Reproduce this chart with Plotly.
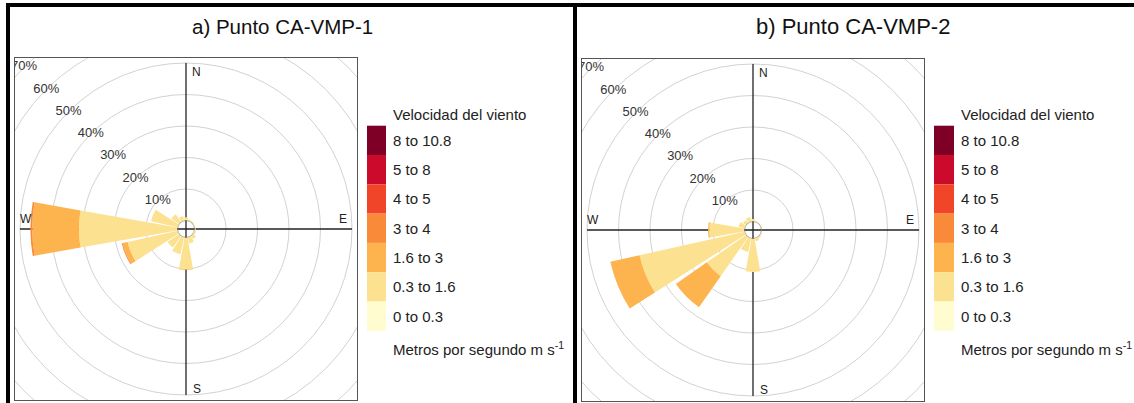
import math
import plotly.graph_objects as go

# ---------------- data ----------------
directions = [0, 22.5, 45, 67.5, 90, 112.5, 135, 157.5,
              180, 202.5, 225, 247.5, 270, 292.5, 315, 337.5]
speed_bins = ["0 to 0.3", "0.3 to 1.6", "1.6 to 3", "3 to 4",
              "4 to 5", "5 to 8", "8 to 10.8"]
bin_colors = ["#FFFDCF", "#FCE290", "#FDB44E", "#F98A3A",
              "#F1452A", "#CB0A2C", "#7E0026"]

# Panel a) CA-VMP-1, % frequency per direction (N, NNE, ... NNW)
a_0_03  = [0, 0, 0, 0, 0, 0, 0, 0, 0, 0, 0, 0, 0, 0, 0, 0]
a_03_16 = [1.0, 0.5, 0.4, 0.3, 0.4, 0.6, 1.2, 2.0, 10.1, 5.5, 4.5, 16.3, 31.3, 8.7, 3.0, 1.5]
a_16_3  = [0, 0, 0, 0, 0, 0, 0, 0, 0.2, 0, 0, 1.6, 14.8, 0, 0, 0]
a_3_4   = [0, 0, 0, 0, 0, 0, 0, 0, 0, 0, 0, 0.3, 0.6, 0, 0, 0]
a_4_5   = [0] * 16
a_5_8   = [0] * 16
a_8_108 = [0] * 16

# Panel b) CA-VMP-2
b_0_03  = [0, 0, 0, 0, 0, 0, 0, 0, 0, 0, 0, 0, 0, 0, 0, 0]
b_03_16 = [0.8, 0.3, 0.2, 0.2, 0.2, 0.3, 0.5, 1.0, 10.6, 4.5, 15.2, 34.2, 11.2, 2.0, 1.2, 1.5]
b_16_3  = [0, 0, 0, 0, 0, 0, 0, 0, 0, 0, 12.0, 9.5, 0.4, 0, 0, 0]
b_3_4   = [0] * 16
b_4_5   = [0] * 16
b_5_8   = [0] * 16
b_8_108 = [0] * 16

grid_pcts = [10, 20, 30, 40, 50, 60, 70]
titles = ["a) Punto CA-VMP-1", "b) Punto CA-VMP-2"]
legend_title = "Velocidad del viento"
legend_units = "Metros por segundo m s<sup>-1</sup>"

# ---------------- geometry ----------------
W, H = 1134, 403
PX_PER_PCT = 3.15
HOLE_PX = 8.5
FRAME = 342
HALF = FRAME / 2
TOTAL_U = HALF / PX_PER_PCT
HOLE_U = HOLE_PX / PX_PER_PCT
R_MAX = TOTAL_U - HOLE_U

panels = [
    dict(left=15, top=58, data=[a_0_03, a_03_16, a_16_3, a_3_4, a_4_5, a_5_8, a_8_108],
         title_x=282, title_size=20.5, leg_box_x=367, leg_box_w=19, leg_text_x=391),
    dict(left=582, top=59, data=[b_0_03, b_03_16, b_16_3, b_3_4, b_4_5, b_5_8, b_8_108],
         title_x=853, title_size=22, leg_box_x=934, leg_box_w=20, leg_text_x=959),
]

FONT = "Liberation Sans, Arial, sans-serif"


def px_x(px):
    return px / W


def px_y(py):
    return 1 - py / H


fig = go.Figure()
shapes = []
annotations = []
layout_axes = {}

for i, p in enumerate(panels):
    sfx = "" if i == 0 else str(i + 1)
    xa, ya = "x" + sfx, "y" + sfx
    dom_x = [px_x(p["left"]), px_x(p["left"] + FRAME)]
    dom_y = [px_y(p["top"] + FRAME), px_y(p["top"])]
    axcommon = dict(range=[-TOTAL_U, TOTAL_U], showgrid=False, zeroline=False,
                    showticklabels=False, ticks="", showline=True, mirror=True,
                    linecolor="#555555", linewidth=1, fixedrange=True)
    layout_axes["xaxis" + sfx] = dict(domain=dom_x, anchor=ya, **axcommon)
    layout_axes["yaxis" + sfx] = dict(domain=dom_y, anchor=xa, **axcommon)

    polar_name = "polar" + sfx
    layout_axes[polar_name] = dict(
        domain=dict(x=dom_x, y=dom_y),
        bgcolor="rgba(0,0,0,0)",
        hole=HOLE_U / TOTAL_U,
        barmode="stack",
        radialaxis=dict(range=[0, R_MAX], visible=False, showgrid=False),
        angularaxis=dict(rotation=90, direction="clockwise", visible=False,
                         showgrid=False),
    )

    # grid circles
    for g in grid_pcts:
        rr = HOLE_U + g
        shapes.append(dict(type="circle", xref=xa, yref=ya, x0=-rr, x1=rr, y0=-rr, y1=rr,
                           line=dict(color="#D2D2D2", width=1), layer="below"))
    # calm circle
    shapes.append(dict(type="circle", xref=xa, yref=ya, x0=-HOLE_U, x1=HOLE_U,
                       y0=-HOLE_U, y1=HOLE_U, line=dict(color="#9A9A9A", width=1),
                       layer="below"))
    # axis cross
    ext = HOLE_U + 50.0
    shapes.append(dict(type="line", xref=xa, yref=ya, x0=-ext, x1=ext, y0=0, y1=0,
                       line=dict(color="#222222", width=1.3), layer="below"))
    shapes.append(dict(type="line", xref=xa, yref=ya, x0=0, x1=0, y0=-ext, y1=ext,
                       line=dict(color="#222222", width=1.3), layer="below"))

    # percent labels along NW diagonal
    fig.add_trace(go.Scatter(
        x=[-(HOLE_U + g) / math.sqrt(2) for g in grid_pcts],
        y=[(HOLE_U + g) / math.sqrt(2) for g in grid_pcts],
        text=[f"{g}%" for g in grid_pcts], mode="text",
        textfont=dict(family=FONT, size=13, color="#333333"),
        cliponaxis=True, hoverinfo="skip", showlegend=False,
        xaxis=xa, yaxis=ya))

    # compass labels
    for lab, lx, ly in [("N", 3.2, 49.7), ("E", 49.8, 3.2), ("S", 3.4, -50.8), ("W", -50.8, 3.3)]:
        annotations.append(dict(text=lab, x=lx, y=ly, xref=xa, yref=ya, showarrow=False,
                                font=dict(family=FONT, size=12, color="#222222")))

    # wind-rose bars
    for b, vals in enumerate(p["data"]):
        fig.add_trace(go.Barpolar(
            r=vals, theta=directions, width=[20] * len(directions),
            marker=dict(color=bin_colors[b], line=dict(width=0)),
            name=speed_bins[b], showlegend=False, subplot=polar_name,
            hoverinfo="skip"))

    # title
    annotations.append(dict(text=titles[i], x=px_x(p["title_x"]), y=px_y(27),
                            xref="paper", yref="paper", showarrow=False,
                            xanchor="center", yanchor="middle",
                            font=dict(family=FONT, size=p["title_size"], color="#111111")))

    # legend (colour key)
    box_top, box_h = 125.7, 29.3
    annotations.append(dict(text=legend_title, x=px_x(p["leg_text_x"]), y=px_y(115),
                            xref="paper", yref="paper", showarrow=False,
                            xanchor="left", yanchor="middle",
                            font=dict(family=FONT, size=15, color="#222222")))
    for k in range(len(speed_bins)):
        idx = len(speed_bins) - 1 - k
        y0 = box_top + k * box_h
        shapes.append(dict(type="rect", xref="paper", yref="paper",
                           x0=px_x(p["leg_box_x"]), x1=px_x(p["leg_box_x"] + p["leg_box_w"]),
                           y0=px_y(y0 + box_h), y1=px_y(y0),
                           fillcolor=bin_colors[idx], line=dict(width=0)))
        annotations.append(dict(text=speed_bins[idx], x=px_x(p["leg_text_x"]),
                                y=px_y(y0 + box_h / 2), xref="paper", yref="paper",
                                showarrow=False, xanchor="left", yanchor="middle",
                                font=dict(family=FONT, size=15, color="#222222")))
    annotations.append(dict(text=legend_units, x=px_x(p["leg_text_x"]), y=px_y(348),
                            xref="paper", yref="paper", showarrow=False,
                            xanchor="left", yanchor="middle",
                            font=dict(family=FONT, size=15, color="#222222")))

# thick panel borders
shapes.append(dict(type="line", xref="paper", yref="paper", x0=px_x(6), x1=1,
                   y0=px_y(5), y1=px_y(5), line=dict(color="black", width=4)))
shapes.append(dict(type="line", xref="paper", yref="paper", x0=px_x(8), x1=px_x(8),
                   y0=0, y1=px_y(4), line=dict(color="black", width=4)))
shapes.append(dict(type="line", xref="paper", yref="paper", x0=px_x(575), x1=px_x(575),
                   y0=0, y1=px_y(4), line=dict(color="black", width=4)))

fig.update_layout(
    width=W, height=H, margin=dict(l=0, r=0, t=0, b=0, pad=0),
    paper_bgcolor="white", plot_bgcolor="white",
    shapes=shapes, annotations=annotations, showlegend=False,
    **layout_axes,
)

fig.write_html("out.html", config={"displayModeBar": False},
               post_script="document.body.style.margin='0';"
                           "document.body.style.overflow='hidden';")
